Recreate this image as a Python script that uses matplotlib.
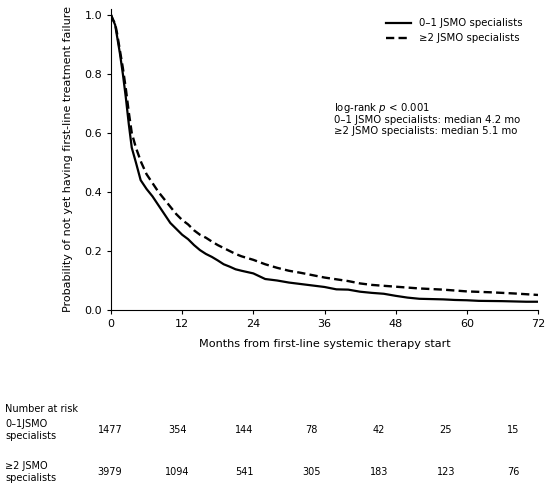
import matplotlib
matplotlib.use("Agg")
import matplotlib.pyplot as plt

plt.rcParams['font.family'] = ['DejaVu Sans']

# Kaplan-Meier estimates
t_low = [0, 0.3, 0.7, 1.0, 1.5, 2.0, 2.5, 3.0, 3.5, 4.2, 5.0, 6.0, 7.0, 8.0, 9.0, 10.0,
         11.0, 12.0, 13.0, 14.0, 15.0, 16.0, 17.0, 18.0, 19.0, 20.0, 21.0, 22.0, 24.0,
         26.0, 28.0, 30.0, 32.0, 34.0, 36.0, 38.0, 40.0, 42.0, 44.0, 46.0, 48.0, 50.0,
         52.0, 54.0, 56.0, 58.0, 60.0, 62.0, 66.0, 70.0, 72.0]
s_low = [1.0, 0.985, 0.966, 0.93, 0.87, 0.80, 0.72, 0.63, 0.55, 0.50, 0.44, 0.41, 0.385,
         0.355, 0.325, 0.295, 0.275, 0.255, 0.24, 0.22, 0.203, 0.19, 0.18, 0.168, 0.155,
         0.147, 0.138, 0.133, 0.124, 0.105, 0.100, 0.093, 0.088, 0.083, 0.078, 0.070,
         0.069, 0.062, 0.058, 0.055, 0.048, 0.042, 0.038, 0.037, 0.036, 0.034, 0.033,
         0.031, 0.030, 0.028, 0.028]

t_high = [0, 0.3, 0.7, 1.0, 1.5, 2.0, 2.5, 3.0, 3.5, 4.2, 5.1, 6.0, 7.0, 8.0, 9.0, 10.0,
          11.0, 12.0, 13.0, 14.0, 15.0, 16.0, 17.0, 18.0, 19.0, 20.0, 21.0, 22.0, 24.0,
          26.0, 28.0, 30.0, 32.0, 34.0, 36.0, 38.0, 40.0, 42.0, 44.0, 46.0, 48.0, 50.0,
          52.0, 54.0, 56.0, 58.0, 60.0, 64.0, 68.0, 72.0]
s_high = [1.0, 0.985, 0.97, 0.94, 0.88, 0.82, 0.75, 0.67, 0.60, 0.55, 0.50, 0.46, 0.43,
          0.40, 0.375, 0.35, 0.325, 0.305, 0.29, 0.27, 0.255, 0.245, 0.232, 0.22, 0.21,
          0.20, 0.19, 0.182, 0.17, 0.155, 0.143, 0.133, 0.126, 0.118, 0.110, 0.104,
          0.098, 0.090, 0.085, 0.082, 0.079, 0.076, 0.073, 0.071, 0.069, 0.066, 0.063,
          0.060, 0.056, 0.051]

label_low = "0\u20131 JSMO specialists"
label_high = "\u22652 JSMO specialists"

risk_times = [0, 12, 24, 36, 48, 60, 72]
risk_low = [1477, 354, 144, 78, 42, 25, 15]
risk_high = [3979, 1094, 541, 305, 183, 123, 76]
risk_labels = ["0\u20131JSMO\nspecialists", "\u22652 JSMO\nspecialists"]

fig = plt.figure(figsize=(5.5, 5.0), dpi=100)
ax = fig.add_axes([111/550, 1-310/500, (538-111)/550, (310-9)/500])
ax.plot(t_low, s_low, color='black', lw=1.6, ls='-', label=label_low)
ax.plot(t_high, s_high, color='black', lw=1.7, ls=(0, (3.5, 1.8)), label=label_high)
ax.set_xlim(0, 72)
ax.set_ylim(0, 1.02)
ax.set_xticks([0, 12, 24, 36, 48, 60, 72])
ax.set_yticks([0.0, 0.2, 0.4, 0.6, 0.8, 1.0])
ax.set_yticklabels(["0.0", "0.2", "0.4", "0.6", "0.8", "1.0"])
ax.tick_params(labelsize=8, length=3, width=0.8)
for sp in ['top', 'right']:
    ax.spines[sp].set_visible(False)
ax.set_xlabel("Months from first-line systemic therapy start", fontsize=8.1, labelpad=7)
ax.set_ylabel("Probability of not yet having first-line treatment failure", fontsize=8.0, labelpad=8)
ax.legend(loc='upper right', bbox_to_anchor=(0.986, 1.0), frameon=False, fontsize=7.3,
          handlelength=2.5, handletextpad=0.8, labelspacing=0.5)
ax.text(334/550, 1-101/500, "log-rank $p$ < 0.001\n" + label_low + ": median 4.2 mo\n" +
        label_high + ": median 5.1 mo", transform=fig.transFigure, fontsize=7.3,
        va='top', ha='left', linespacing=1.05)

# number at risk table
tax = fig.add_axes([110/550, 0.0, (513-110)/550, 0.2])
tax.set_xlim(0, 72)
tax.set_ylim(500, 400)
tax.axis('off')
fig.text(5/550, 1-409/500, "Number at risk", fontsize=7.0, va='center', ha='left')
for lab, vals, y in [(risk_labels[0], risk_low, 430), (risk_labels[1], risk_high, 472)]:
    fig.text(5/550, 1-y/500, lab, fontsize=7.0, va='center', ha='left', linespacing=1.2)
    for t, v in zip(risk_times, vals):
        tax.text(t, y, str(v), fontsize=7.0, va='center', ha='center')

fig.savefig("out.png", dpi=100)
